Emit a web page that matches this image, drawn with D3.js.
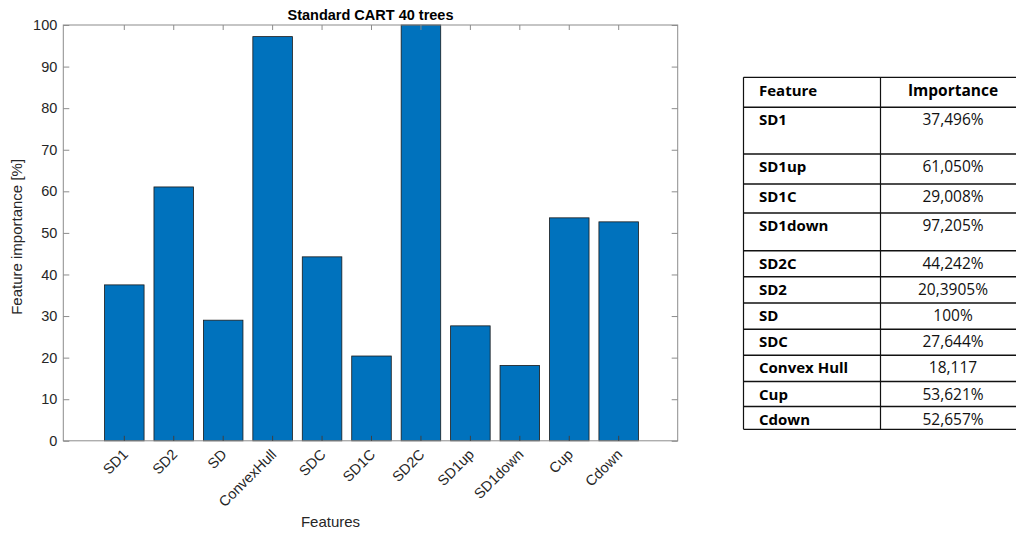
<!DOCTYPE html>
<html>
<head>
<meta charset="utf-8">
<script src="https://cdn.jsdelivr.net/npm/d3@7"></script>
<style>
  html, body { margin: 0; padding: 0; background: #fff; }
  svg { display: block; }
</style>
</head>
<body>
<svg id="chart" width="1016" height="533"></svg>
<script>
// ---- data ----
const categories = ["SD1", "SD2", "SD", "ConvexHull", "SDC", "SD1C", "SD2C", "SD1up", "SD1down", "Cup", "Cdown"];
const importance = [37.496, 61.050, 29.008, 97.205, 44.242, 20.3905, 100, 27.644, 18.117, 53.621, 52.657];
const yTicks = [0, 10, 20, 30, 40, 50, 60, 70, 80, 90, 100];
const tableFeatures = ["SD1", "SD1up", "SD1C", "SD1down", "SD2C", "SD2", "SD", "SDC", "Convex Hull", "Cup", "Cdown"];
const tableValues = ["37,496%", "61,050%", "29,008%", "97,205%", "44,242%", "20,3905%", "100%", "27,644%", "18,117", "53,621%", "52,657%"];
const tableHeader = ["Feature", "Importance"];
const titleText = "Standard CART 40 trees";
const xLabelText = "Features";
const yLabelText = "Feature importance [%]";

// ---- layout ----
const svg = d3.select("#chart");
const plot = { left: 63.3, right: 677.7, top: 25, bottom: 440.8 };
const step = 49.44;
const firstCenter = 124.3;

const x = d3.scaleBand()
  .domain(categories)
  .range([firstCenter - step / 2, firstCenter - step / 2 + step * categories.length])
  .paddingInner(0.2)
  .paddingOuter(0.1);
const y = d3.scaleLinear().domain([0, 100]).range([plot.bottom, plot.top]);

const axisColor = "#262626";
const boxColor = "#8c8c8c";
const font = "'Liberation Sans', Arial, sans-serif";

// bars
svg.append("g").selectAll("rect")
  .data(categories)
  .join("rect")
  .attr("x", (d) => x(d))
  .attr("width", x.bandwidth())
  .attr("y", (d, i) => y(importance[i]))
  .attr("height", (d, i) => y(0) - y(importance[i]))
  .attr("fill", "#0072BD")
  .attr("stroke", "#1a1a1a")
  .attr("stroke-width", 0.8);

// box
svg.append("rect")
  .attr("x", plot.left).attr("y", plot.top)
  .attr("width", plot.right - plot.left).attr("height", plot.bottom - plot.top)
  .attr("fill", "none").attr("stroke", boxColor).attr("stroke-width", 1);

// left y axis
const yAxis = d3.axisLeft(y).tickValues(yTicks).tickSize(-6).tickPadding(6);
const gy = svg.append("g").attr("transform", `translate(${plot.left},0)`).call(yAxis);
gy.select(".domain").remove();
gy.selectAll(".tick line").attr("stroke", boxColor);
gy.selectAll(".tick text").attr("fill", axisColor).style("font-family", font).style("font-size", "14.5px");

// right y ticks
const gyr = svg.append("g").attr("transform", `translate(${plot.right},0)`)
  .call(d3.axisRight(y).tickValues(yTicks).tickSize(-6).tickFormat(""));
gyr.select(".domain").remove();
gyr.selectAll(".tick line").attr("stroke", boxColor);

// bottom x axis
const xCenter = (d) => x(d) + x.bandwidth() / 2;
const gx = svg.append("g").attr("transform", `translate(0,${plot.bottom})`)
  .call(d3.axisBottom(x).tickSize(-5).tickSizeOuter(0).tickFormat(""));
gx.select(".domain").remove();
gx.selectAll(".tick line").attr("stroke", "#404040");

// top x ticks
const gxt = svg.append("g").attr("transform", `translate(0,${plot.top})`)
  .call(d3.axisTop(x).tickSize(-5).tickSizeOuter(0).tickFormat(""));
gxt.select(".domain").remove();
gxt.selectAll(".tick line").attr("stroke", boxColor);

// rotated x labels
svg.append("g").selectAll("text")
  .data(categories)
  .join("text")
  .attr("transform", (d) => `translate(${xCenter(d) + 1},${plot.bottom + 11}) rotate(-45)`)
  .attr("text-anchor", "end")
  .attr("dy", "0.35em")
  .attr("fill", axisColor)
  .style("font-family", font)
  .style("font-size", "14.5px")
  .text((d) => d);

// title
svg.append("text")
  .attr("x", (plot.left + plot.right) / 2).attr("y", 20)
  .attr("text-anchor", "middle")
  .attr("fill", "#000")
  .style("font-family", font).style("font-size", "14.5px").style("font-weight", "bold")
  .text(titleText);

// x label
svg.append("text")
  .attr("x", 330.5).attr("y", 527)
  .attr("text-anchor", "middle")
  .attr("fill", axisColor)
  .style("font-family", font).style("font-size", "15px")
  .text(xLabelText);

// y label
svg.append("text")
  .attr("transform", `translate(22,${(plot.top + plot.bottom) / 2 + 4}) rotate(-90)`)
  .attr("text-anchor", "middle")
  .attr("fill", axisColor)
  .style("font-family", font).style("font-size", "15px")
  .text(yLabelText);

// ---- table ----
const tFont = "'Open Sans', 'Noto Sans', sans-serif";
const rowEdges = [77.3, 107.3, 154, 184, 213, 250.7, 276.7, 303, 329.3, 355.3, 381.5, 406.5, 429.3];
const tLeft = 743.5, tMid = 880.5, tRight = 1025;
const colCenter = 953;
const tg = svg.append("g");

// horizontal lines
tg.selectAll("line.h")
  .data(rowEdges)
  .join("line")
  .attr("class", "h")
  .attr("x1", tLeft).attr("x2", tRight)
  .attr("y1", (d) => d).attr("y2", (d) => d)
  .attr("stroke", "#111").attr("stroke-width", (d, i) => (i === 0 || i === rowEdges.length - 1) ? 1.3 : 1.6);

// vertical lines
[tLeft, tMid, tRight].forEach((xx) => {
  tg.append("line")
    .attr("x1", xx).attr("x2", xx)
    .attr("y1", rowEdges[0]).attr("y2", rowEdges[rowEdges.length - 1])
    .attr("stroke", "#111").attr("stroke-width", 1.2);
});

// header
const headerBase = 96;
tg.append("text").attr("x", 759).attr("y", headerBase)
  .style("font-family", tFont).style("font-size", "15px").style("font-weight", "bold")
  .attr("fill", "#000").text(tableHeader[0]);
tg.append("text").attr("x", colCenter).attr("y", headerBase)
  .attr("text-anchor", "middle")
  .style("font-family", tFont).style("font-size", "15.5px").style("font-weight", "bold")
  .attr("fill", "#000").text(tableHeader[1]);

// rows: text sits near the top of each row
const rowBaseline = (i) => rowEdges[i + 1] + 18;
tg.selectAll("text.feat")
  .data(tableFeatures)
  .join("text")
  .attr("class", "feat")
  .attr("x", 759)
  .attr("y", (d, i) => rowBaseline(i))
  .style("font-family", tFont).style("font-size", "15px").style("font-weight", "bold")
  .attr("fill", "#000")
  .text((d) => d);
tg.selectAll("text.val")
  .data(tableValues)
  .join("text")
  .attr("class", "val")
  .attr("x", colCenter)
  .attr("y", (d, i) => rowBaseline(i))
  .attr("text-anchor", "middle")
  .style("font-family", tFont).style("font-size", "15.5px")
  .attr("fill", "#111")
  .text((d) => d);
</script>
</body>
</html>
